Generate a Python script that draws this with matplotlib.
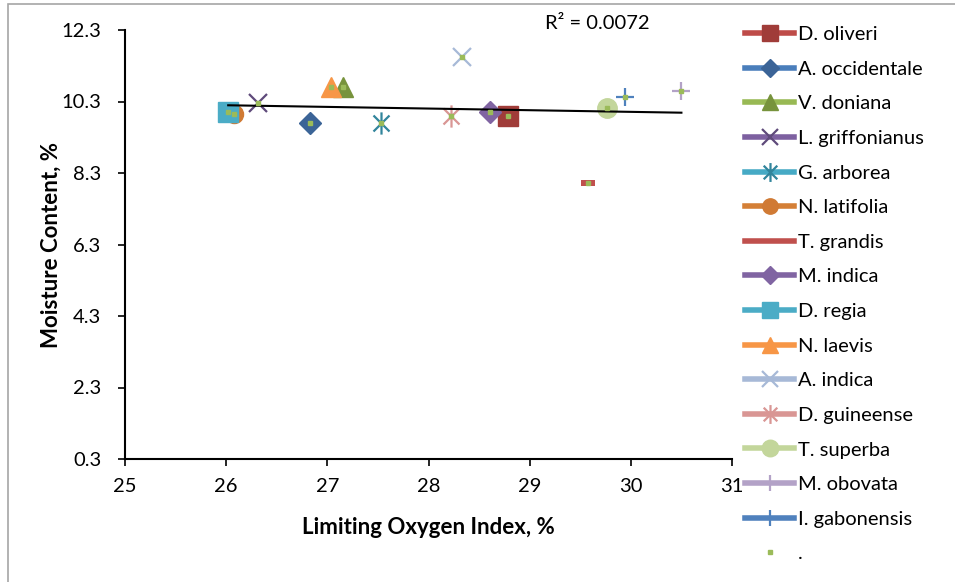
import numpy as np
import matplotlib
matplotlib.use('Agg')
import matplotlib.pyplot as plt
from matplotlib.lines import Line2D
from matplotlib.path import Path
from matplotlib.patches import Rectangle

plt.rcParams['font.family'] = ['Lato', 'DejaVu Sans']

species = ['D. oliveri', 'A. occidentale', 'V. doniana', 'L. griffonianus', 'G. arborea',
           'N. latifolia', 'T. grandis', 'M. indica', 'D. regia', 'N. laevis',
           'A. indica', 'D. guineense', 'T. superba', 'M. obovata', 'I. gabonensis']
loi = [28.79, 26.83, 27.15, 26.31, 27.53, 26.08, 29.58, 28.61, 26.02, 27.04,
       28.33, 28.22, 29.76, 30.50, 29.94]
moisture = [9.90, 9.69, 10.71, 10.25, 9.69, 9.96, 8.01, 10.00, 10.01, 10.70,
            11.55, 9.90, 10.11, 10.60, 10.43]

x_ticks = [25, 26, 27, 28, 29, 30, 31]
y_ticks = [0.3, 2.3, 4.3, 6.3, 8.3, 10.3, 12.3]

# excel-ish series styles
asterisk = Path([(0, -1), (0, 1), (-0.72, -0.72), (0.72, 0.72), (-0.72, 0.72), (0.72, -0.72)],
                [Path.MOVETO, Path.LINETO, Path.MOVETO, Path.LINETO, Path.MOVETO, Path.LINETO])
dash = Path([(-1, -0.45), (1, -0.45), (1, 0.45), (-1, 0.45), (-1, -0.45)],
            [Path.MOVETO, Path.LINETO, Path.LINETO, Path.LINETO, Path.CLOSEPOLY])

styles = [
    dict(line='#BE4B48', face='#A03C39', marker='s', ms=14, mew=1),
    dict(line='#4A7EBB', face='#3B6497', marker='D', ms=11, mew=1),
    dict(line='#98B954', face='#77933C', marker='^', ms=14, mew=1),
    dict(line='#7D60A0', face='#5F4A7B', marker='x', ms=13, mew=1.6),
    dict(line='#46AAC5', face='#31859C', marker=asterisk, ms=16, mew=1.6),
    dict(line='#D47F36', face='#D07A34', marker='o', ms=13, mew=1),
    dict(line='#C0504D', face='#C0504D', marker=dash, ms=10, mew=0),
    dict(line='#8064A2', face='#8064A2', marker='D', ms=11, mew=1),
    dict(line='#4BACC6', face='#4BACC6', marker='s', ms=14, mew=1),
    dict(line='#F79646', face='#F79646', marker='^', ms=14, mew=1),
    dict(line='#A7B9D7', face='#A7B9D7', marker='x', ms=13, mew=1.6),
    dict(line='#D99694', face='#D99694', marker=asterisk, ms=16, mew=1.6),
    dict(line='#C3D69B', face='#C3D69B', marker='o', ms=14, mew=1),
    dict(line='#B3A2C7', face='#B3A2C7', marker='+', ms=13, mew=1.6),
    dict(line='#4F81BD', face='#4F81BD', marker='+', ms=13, mew=1.6),
]

fs = 14.5

fig = plt.figure(figsize=(9.55, 5.82), dpi=100)
ax = fig.add_axes([125 / 955, 123 / 582, 607 / 955, 429 / 582])

for i, name in enumerate(species):
    st = styles[i]
    ax.plot(loi[i], moisture[i], linestyle='none', marker=st['marker'], ms=st['ms'],
            mfc=st['face'], mec=st['face'], mew=st['mew'], zorder=3)

# "." series (all points) + linear trendline
ax.plot(loi, moisture, linestyle='none', marker='s', ms=2.2, mfc='#9BBB59', mec='#9BBB59', zorder=5)
coef = np.polyfit(loi, moisture, 1)
xt = np.array([min(loi), max(loi)])
ax.plot(xt, np.polyval(coef, xt), color='black', lw=1.5, zorder=4)
ax.text(29.67, 12.47, 'R² = 0.0072', ha='center', va='center', fontsize=fs, clip_on=False)

ax.set_xlim(25, 31)
ax.set_ylim(0.3, 12.3)
ax.set_xticks(x_ticks)
ax.set_yticks(y_ticks)
ax.set_yticklabels(['%.1f' % v for v in y_ticks])
ax.spines['top'].set_visible(False)
ax.spines['right'].set_visible(False)
ax.spines['left'].set_linewidth(1.5)
ax.spines['bottom'].set_linewidth(1.5)
ax.tick_params(direction='out', length=5, width=1.2, labelsize=fs)
ax.tick_params(axis='y', pad=12)
ax.tick_params(axis='x', pad=9)
ax.set_xlabel('Limiting Oxygen Index, %', fontsize=16, fontweight='bold', va='center')
ax.set_ylabel('Moisture Content, %', fontsize=16, fontweight='bold', va='center')
ax.xaxis.set_label_coords(0.5, -(527 - 459) / 429)
ax.yaxis.set_label_coords(-(125 - 51) / 607, 0.5)

handles = []
for i, name in enumerate(species):
    st = styles[i]
    if name == 'T. grandis':
        h = Line2D([], [], color=st['line'], lw=4)
    else:
        h = Line2D([], [], color=st['line'], lw=4, marker=st['marker'], ms=st['ms'] * 0.85,
                   mfc=st['face'], mec=st['face'], mew=st['mew'])
    handles.append(h)
handles.append(Line2D([], [], linestyle='none', marker='s', ms=2.2, mfc='#9BBB59', mec='#9BBB59'))
fig.legend(handles, species + ['.'], loc='upper left', bbox_to_anchor=(745 / 955, 1 - 26 / 582),
           frameon=False, fontsize=fs, handlelength=2.45, handletextpad=0.2,
           labelspacing=0.87, borderpad=0, borderaxespad=0)

fig.patches.append(Rectangle((8 / 955, -0.05), 1.1, 1 - 4 / 582 + 0.05, transform=fig.transFigure,
                             fill=False, edgecolor='#A6A6A6', lw=1.2))

fig.savefig('out.png', dpi=100)
